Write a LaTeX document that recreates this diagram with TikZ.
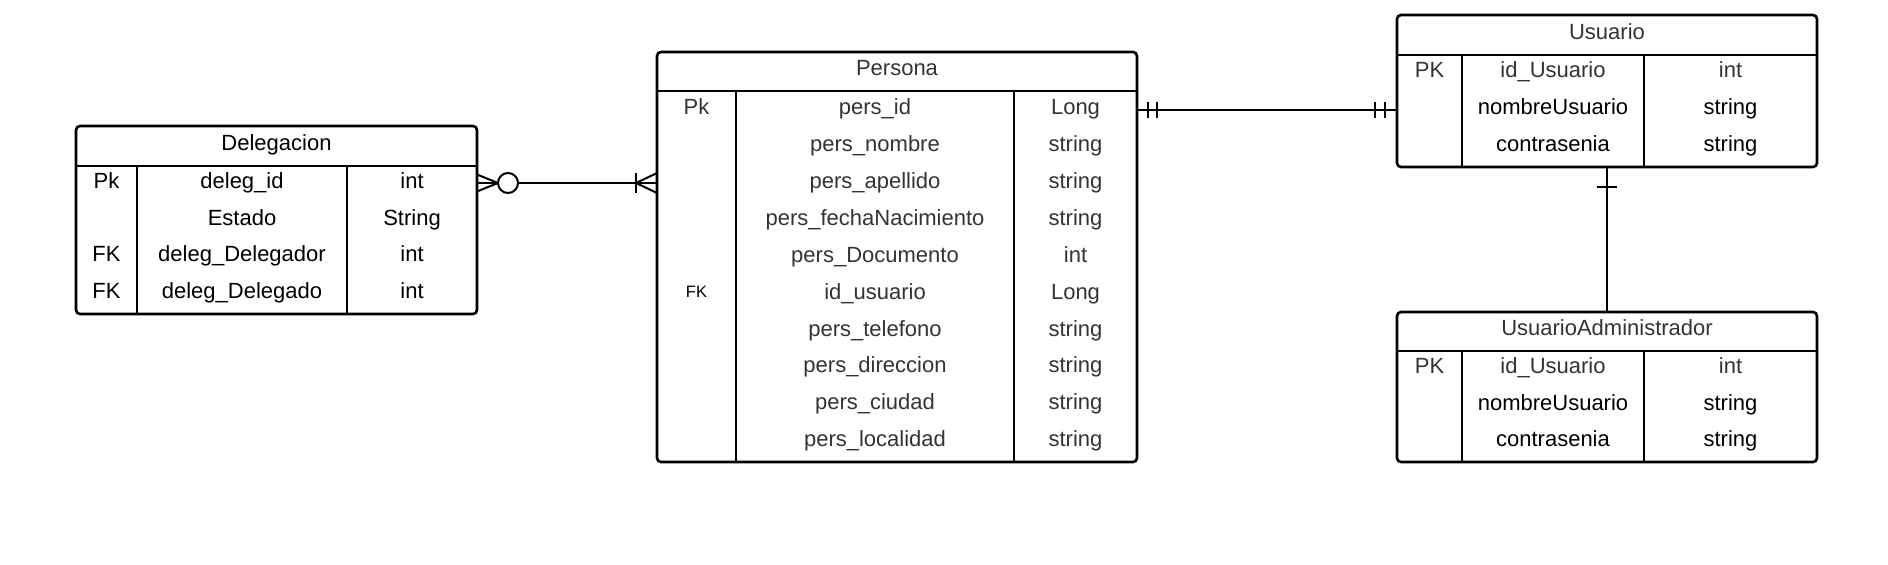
\documentclass[tikz,border=0pt]{standalone}
\usepackage{fontspec}
\setmainfont{Liberation Sans}
\definecolor{txtgray}{HTML}{333333}
\begin{document}
\begin{tikzpicture}[x=1pt,y=-1pt,
  tbl/.style={draw=black,line width=2.6pt,rounded corners=4pt,inner sep=0pt,fill=none},
  sep/.style={line width=2.6pt},
  conn/.style={line width=2pt},
  cell/.style={inner sep=0pt,yshift=1pt,text height=15.75pt,text depth=0pt,font=\fontsize{22}{26}\selectfont,text=txtgray},
  cellk/.style={cell,text=black},
  small/.style={cell,text height=12pt,font=\fontsize{16.5}{20}\selectfont,text=black}]
\useasboundingbox (0,0) rectangle (1888,565);
% ---------- Delegacion ----------
\node[tbl,minimum width=401pt,minimum height=188pt] (deleg) at (276.5,220) {};
\draw[sep] (76,166) -- (477,166);
\draw[sep] (137,166) -- (137,314);
\draw[sep] (347,166) -- (347,314);
\node[cellk] (dh) at (276.5,144) {Delegacion};
\node[cellk] (d1a) at (106.5,182) {Pk};
\node[cellk] (d1b) at (242,182) {deleg\_id};
\node[cellk] (d1c) at (412,182) {int};
\node[cellk] (d2b) at (242,218.5) {Estado};
\node[cellk] (d2c) at (412,218.5) {String};
\node[cellk] (d3a) at (106.5,255) {FK};
\node[cellk] (d3b) at (242,255) {deleg\_Delegador};
\node[cellk] (d3c) at (412,255) {int};
\node[cellk] (d4a) at (106.5,292) {FK};
\node[cellk] (d4b) at (242,292) {deleg\_Delegado};
\node[cellk] (d4c) at (412,292) {int};
% ---------- Persona ----------
\node[tbl,minimum width=480pt,minimum height=410pt] (pers) at (897,257) {};
\draw[sep] (657,91) -- (1137,91);
\draw[sep] (736,91) -- (736,462);
\draw[sep] (1014,91) -- (1014,462);
\node[cell] (ph) at (897,69) {Persona};
\node[cell] (p1a) at (696.5,108) {Pk};
\node[small] (p6a) at (696.5,292.5) {FK};
\foreach \n/\t/\y [count=\i] in {pers\_id/Long/108, pers\_nombre/string/145, pers\_apellido/string/182,
  pers\_fechaNacimiento/string/218.5, pers\_Documento/int/255.5, id\_usuario/Long/292.5,
  pers\_telefono/string/329.5, pers\_direccion/string/366, pers\_ciudad/string/403, pers\_localidad/string/440}{
  \node[cell] (pn\i) at (875,\y) {\n};
  \node[cell] (pt\i) at (1075.5,\y) {\t};
}
% ---------- Usuario ----------
\node[tbl,minimum width=420pt,minimum height=152pt] (usu) at (1607,91) {};
\draw[sep] (1397,55) -- (1817,55);
\draw[sep] (1462,55) -- (1462,167);
\draw[sep] (1644,55) -- (1644,167);
\node[cell] (uh) at (1607,33) {Usuario};
\node[cell] (u1a) at (1429.5,71) {PK};
\node[cell] (u1b) at (1553,71) {id\_Usuario};
\node[cell] (u1c) at (1730.5,71) {int};
\node[cellk] (u2b) at (1553,108) {nombreUsuario};
\node[cellk] (u2c) at (1730.5,108) {string};
\node[cellk] (u3b) at (1553,144.5) {contrasenia};
\node[cellk] (u3c) at (1730.5,144.5) {string};
% ---------- UsuarioAdministrador ----------
\node[tbl,minimum width=420pt,minimum height=150pt] (adm) at (1607,387) {};
\draw[sep] (1397,351) -- (1817,351);
\draw[sep] (1462,351) -- (1462,462);
\draw[sep] (1644,351) -- (1644,462);
\node[cell] (ah) at (1607,329) {UsuarioAdministrador};
\node[cell] (a1a) at (1429.5,367) {PK};
\node[cell] (a1b) at (1553,367) {id\_Usuario};
\node[cell] (a1c) at (1730.5,367) {int};
\node[cellk] (a2b) at (1553,403.5) {nombreUsuario};
\node[cellk] (a2c) at (1730.5,403.5) {string};
\node[cellk] (a3b) at (1553,440) {contrasenia};
\node[cellk] (a3c) at (1730.5,440) {string};
% ---------- connectors ----------
\coordinate (ydp) at (0,183);
\coordinate (ypu) at (0,110);
\coordinate (xua) at (1607,0);
% Delegacion (zero or many) -- Persona (one or many)
\draw[conn] (deleg.east |- ydp) -- (pers.west |- ydp);
\draw[conn] (477,174.5) -- (498,183) -- (477,191.5);
\draw[conn,fill=white] (508,183) circle (10pt);
\draw[conn] (636,173) -- (636,193);
\draw[conn] (657,173) -- (636,183) -- (657,193);
% Persona (one and only one) -- Usuario (one and only one)
\draw[conn] (pers.east |- ypu) -- (usu.west |- ypu);
\draw[conn] (1148,102) -- (1148,118);
\draw[conn] (1157,102) -- (1157,118);
\draw[conn] (1375,102) -- (1375,118);
\draw[conn] (1385,102) -- (1385,118);
% Usuario -- UsuarioAdministrador
\draw[conn] (usu.south -| xua) -- (adm.north -| xua);
\draw[conn] (1597,187) -- (1617,187);
\end{tikzpicture}
\end{document}
